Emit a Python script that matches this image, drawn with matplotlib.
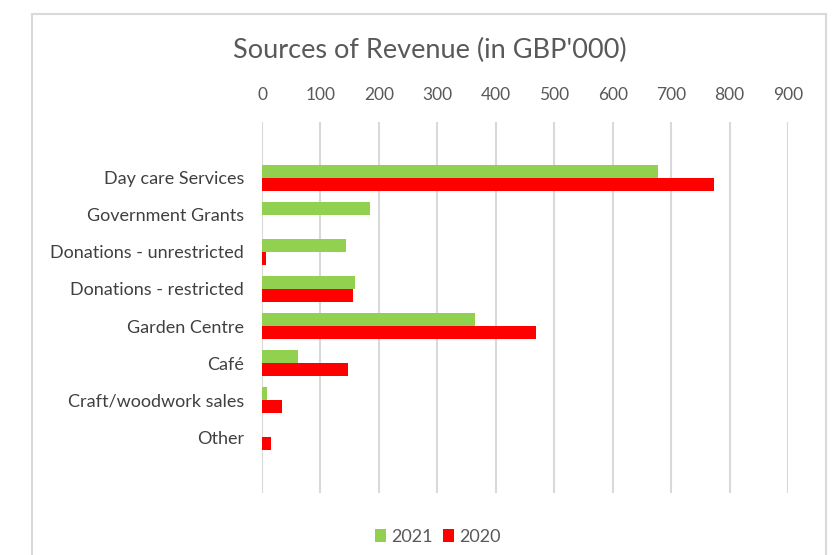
import numpy as np
import matplotlib.pyplot as plt
from matplotlib.patches import Rectangle

# Données
categories = ["Day care Services", "Government Grants", "Donations - unrestricted",
              "Donations - restricted", "Garden Centre", "Café",
              "Craft/woodwork sales", "Other"]
rev_2021 = [678, 184, 143, 159, 365, 61, 8, 0]
rev_2020 = [773, 0, 7, 155, 468, 148, 34, 15]
x_ticks = [0, 100, 200, 300, 400, 500, 600, 700, 800, 900]

plt.rcParams['font.family'] = ['Lato', 'DejaVu Sans']

W, H = 839, 555
fig = plt.figure(figsize=(W / 100, H / 100), dpi=100)

# cadre du graphique
fig.patches.append(Rectangle((32 / W, -0.1), (826 - 32) / W, 1.1 - 14 / H,
                             transform=fig.transFigure, fill=False,
                             edgecolor="#d9d9d9", linewidth=1.5))

ax = fig.add_axes([262 / W, 1 - 493 / H, (788 - 262) / W, (493 - 122) / H])

y = np.arange(len(categories))
h = 0.35
ax.barh(y - h / 2, rev_2021, height=h, color="#92D050", label="2021")
ax.barh(y + h / 2, rev_2020, height=h, color="#FF0000", label="2020")

ax.set_xlim(0, 900)
ax.set_ylim(8.5, -1.5)
ax.set_xticks(x_ticks)
ax.xaxis.tick_top()
ax.set_yticks(y)
ax.set_yticklabels(categories)
ax.tick_params(axis="x", length=0, pad=14, labelsize=12.5, labelcolor="#595959")
ax.tick_params(axis="y", length=0, pad=13, labelsize=13, labelcolor="#404040")
ax.grid(axis="x", color="#d9d9d9", linewidth=1.5)
ax.set_axisbelow(True)
for s in ax.spines.values():
    s.set_visible(False)

fig.text(430 / W, 1 - 50 / H, "Sources of Revenue (in GBP'000)", ha="center", va="center",
         fontsize=19.5, color="#595959")

fig.legend(loc="center", bbox_to_anchor=(438 / W, 1 - 537 / H), ncol=2, frameon=False,
           fontsize=13, labelcolor="#595959", handlelength=0.6, handleheight=0.7,
           handletextpad=0.3, columnspacing=0.6)

plt.savefig("out.png", dpi=100)
plt.close()
